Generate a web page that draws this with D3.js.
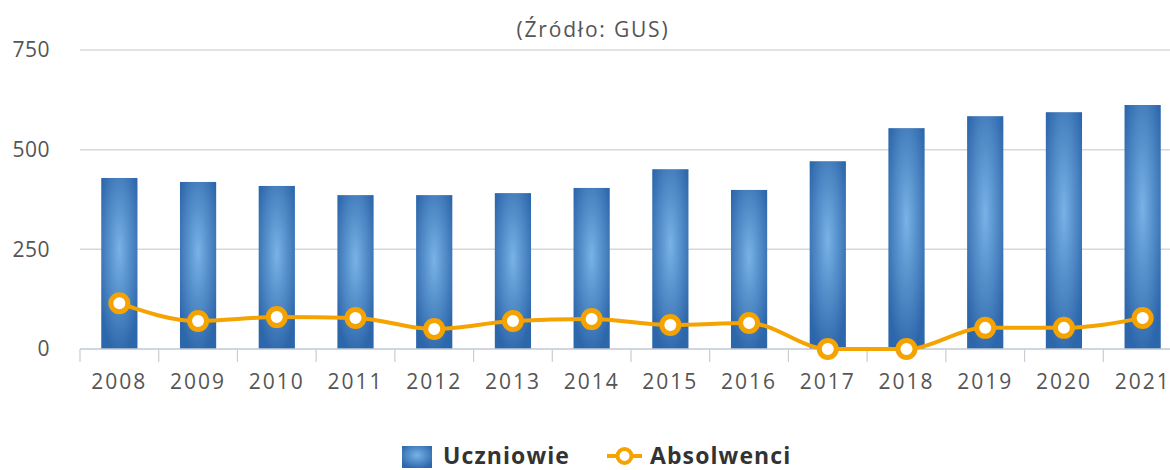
<!DOCTYPE html>
<html>
<head>
<meta charset="utf-8">
<script src="https://cdn.jsdelivr.net/npm/d3@7"></script>
<style>
  body { margin: 0; background: #fff; overflow: hidden; }
  text { font-family: "Open Sans", "DejaVu Sans", sans-serif; }
</style>
</head>
<body>
<div class="chart"></div>
<script>
var years = ['2008', '2009', '2010', '2011', '2012', '2013', '2014', '2015', '2016', '2017', '2018', '2019', '2020', '2021'];
var uczniowie = [429, 419, 409, 386, 386, 391, 404, 451, 399, 471, 554, 584, 594, 612];
var absolwenci = [115, 70, 80, 78, 50, 70, 75, 60, 65, 0, 0, 53, 53, 78];
var yTicks = [0, 250, 500, 750];

var width = 1170, height = 470;
var margin = {top: 50, right: -12, bottom: 121, left: 80};
var plotW = width - margin.left - margin.right;
var plotH = height - margin.top - margin.bottom;

var svg = d3.select('.chart').append('svg')
  .attr('width', width)
  .attr('height', height);

var defs = svg.append('defs');
var grad = defs.append('radialGradient')
  .attr('id', 'barGrad')
  .attr('cx', '0.5').attr('cy', '0.42').attr('r', '0.62');
grad.append('stop').attr('offset', '0%').attr('stop-color', '#78b2e6');
grad.append('stop').attr('offset', '100%').attr('stop-color', '#2d67ab');

var x = d3.scaleBand()
  .domain(years)
  .range([0, plotW])
  .paddingInner(0.54)
  .paddingOuter(0.27);

var y = d3.scaleLinear()
  .domain([0, 750])
  .range([plotH, 0]);

var g = svg.append('g')
  .attr('transform', 'translate(' + margin.left + ',' + margin.top + ')');

// title
svg.append('text')
  .attr('x', 593).attr('y', 37)
  .attr('text-anchor', 'middle')
  .style('font-size', '21px')
  .style('letter-spacing', '1.8px')
  .style('fill', '#555')
  .text('(Źródło: GUS)');

// grid
g.selectAll('.grid')
  .data(yTicks.filter(function(d) { return d > 0; }))
  .enter().append('line')
    .attr('x1', 0).attr('x2', plotW)
    .attr('y1', function(d) { return y(d); })
    .attr('y2', function(d) { return y(d); })
    .style('stroke', '#d8d8d8')
    .style('stroke-width', 1.5);

// y labels
g.selectAll('.ylab')
  .data(yTicks)
  .enter().append('text')
    .attr('x', -30)
    .attr('y', function(d) { return y(d); })
    .attr('dy', '0.35em')
    .attr('text-anchor', 'end')
    .style('font-size', '21px')
    .style('letter-spacing', '0.5px')
    .style('fill', '#555')
    .text(function(d) { return d; });

// bars
g.selectAll('.bar')
  .data(uczniowie)
  .enter().append('rect')
    .attr('x', function(d, i) { return x(years[i]); })
    .attr('y', function(d) { return y(d); })
    .attr('width', x.bandwidth())
    .attr('height', function(d) { return plotH - y(d); })
    .style('fill', 'url(#barGrad)');

// x axis
var step = x.step();
g.append('line')
  .attr('x1', 0).attr('x2', plotW)
  .attr('y1', plotH).attr('y2', plotH)
  .style('stroke', '#c0c8d4').style('stroke-width', 1.5);

g.selectAll('.xtick')
  .data(years)
  .enter().append('line')
    .attr('x1', function(d) { return x(d) - x.paddingOuter() * step; })
    .attr('x2', function(d) { return x(d) - x.paddingOuter() * step; })
    .attr('y1', plotH).attr('y2', plotH + 13)
    .style('stroke', '#c8ccd4').style('stroke-width', 1.2);

g.selectAll('.xlab')
  .data(years)
  .enter().append('text')
    .attr('x', function(d) { return x(d) + x.bandwidth() / 2; })
    .attr('y', plotH + 40)
    .attr('text-anchor', 'middle')
    .style('font-size', '21px')
    .style('letter-spacing', '2px')
    .style('fill', '#555')
    .text(function(d) { return d; });

// line
var line = d3.line()
  .curve(d3.curveMonotoneX)
  .x(function(d, i) { return x(years[i]) + x.bandwidth() / 2; })
  .y(function(d) { return y(d); });

g.append('path')
  .datum(absolwenci)
  .attr('d', line)
  .style('fill', 'none')
  .style('stroke', '#f5a300')
  .style('stroke-width', 4);

g.selectAll('.dot')
  .data(absolwenci)
  .enter().append('circle')
    .attr('cx', function(d, i) { return x(years[i]) + x.bandwidth() / 2; })
    .attr('cy', function(d) { return y(d); })
    .attr('r', 8.5)
    .style('fill', '#fff')
    .style('stroke', '#f5a300')
    .style('stroke-width', 5);

// legend
var leg = svg.append('g').attr('transform', 'translate(0,456)');
leg.append('rect')
  .attr('x', 402).attr('y', -10)
  .attr('width', 30).attr('height', 22)
  .style('fill', 'url(#barGrad)');
leg.append('text')
  .attr('x', 443).attr('dy', '0.35em')
  .style('font-size', '23px').style('font-weight', 'bold')
  .style('letter-spacing', '1.1px').style('fill', '#333')
  .text('Uczniowie');
leg.append('line')
  .attr('x1', 607).attr('x2', 642)
  .style('stroke', '#f5a300').style('stroke-width', 4);
leg.append('circle')
  .attr('cx', 624.5).attr('r', 7)
  .style('fill', '#fff').style('stroke', '#f5a300').style('stroke-width', 4);
leg.append('text')
  .attr('x', 650).attr('dy', '0.35em')
  .style('font-size', '23px').style('font-weight', 'bold')
  .style('letter-spacing', '1.1px').style('fill', '#333')
  .text('Absolwenci');
</script>
</body>
</html>
